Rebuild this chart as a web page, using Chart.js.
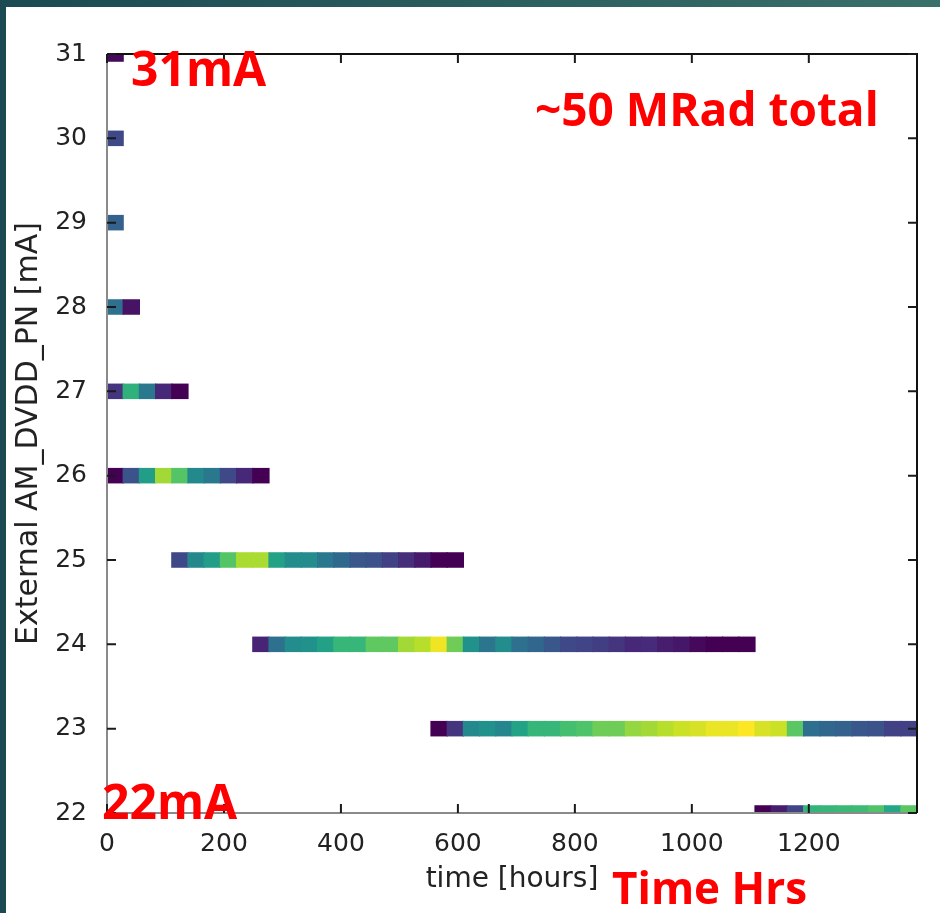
<!DOCTYPE html>
<html>
<head>
<meta charset="utf-8">
<title>AM_DVDD_PN vs time</title>
<script src="https://cdn.jsdelivr.net/npm/chart.js@4.4.1/dist/chart.umd.min.js"></script>
<style>
  html, body { margin: 0; padding: 0; background: #fff; }
  .page { position: relative; width: 940px; height: 913px; overflow: hidden; background: #fff; }
  canvas { position: absolute; left: 0; top: 0; }
  .strip-left { position: absolute; left: 0; top: 0; width: 6px; height: 913px; background: #1b4a52; }
  .strip-top { position: absolute; left: 0; top: 0; width: 940px; height: 7px; background: linear-gradient(to right, #1b4a52, #3a706a); }
  .note { position: absolute; color: #ff0000; font-family: "Open Sans", sans-serif; font-weight: bold; font-size: 48px; line-height: 48px; white-space: nowrap; }
</style>
</head>
<body>
<div class="page">
  <canvas id="myChart" width="940" height="913"></canvas>
  <div class="strip-left"></div>
  <div class="strip-top"></div>
  <div class="note" style="left:131px; top:44px;">31mA</div>
  <div class="note" style="left:535px; top:85px; font-size:46px; line-height:46px;">~50 MRad total</div>
  <div class="note" style="left:102px; top:777px;">22mA</div>
  <div class="note" style="left:612px; top:865px; font-size:44px; line-height:44px;">Time Hrs</div>
</div>
<script>
// rows of the 2d histogram (current in mA), top to bottom
const currents = [31, 30, 29, 28, 27, 26, 25, 24, 23, 22];
// index of the first filled time bin in each row
const firstBin = [0, 0, 0, 0, 0, 0, 4, 9, 20, 40];

// counts per time bin
const counts31 = [2];
const counts30 = [22];
const counts29 = [31];
const counts28 = [37, 5];
const counts27 = [15, 64, 40, 11, 0];
const counts26 = [0, 25, 55, 86, 73, 47, 40, 22, 11, 0];
const counts25 = [22, 47, 55, 73, 87, 87, 57, 48, 48, 40, 34, 27, 25, 19, 13, 7, 0, 0];
const counts24 = [10, 37, 48, 50, 57, 66, 66, 75, 75, 86, 89, 98, 78, 50, 39, 48, 37, 33, 27, 22, 20, 18, 15, 11, 12, 8, 6, 2, 0, 0, 0];
const counts23 = [0, 15, 47, 50, 46, 58, 66, 66, 70, 72, 78, 78, 84, 86, 89, 92, 94, 97, 97, 100, 94, 92, 74, 36, 33, 31, 27, 25, 19, 19];
const counts22 = [0, 8, 20, 65, 66, 67, 68, 72, 60, 74];
const rowCounts = [counts31, counts30, counts29, counts28, counts27, counts26, counts25, counts24, counts23, counts22];

const binHours = 27.7;
const timeMax = 1385;
const timeTicks = [0, 200, 400, 600, 800, 1000, 1200];
const currentTicks = [22, 23, 24, 25, 26, 27, 28, 29, 30, 31];

// viridis stops
const viridis = ['#440154', '#482475', '#414487', '#355f8d', '#2a788e', '#21918c', '#22a884', '#44bf70', '#7ad151', '#bddf26', '#fde725'];

function hexRgb(h) {
  return [parseInt(h.slice(1, 3), 16), parseInt(h.slice(3, 5), 16), parseInt(h.slice(5, 7), 16)];
}

function viridisColor(v) {
  v = Math.max(0, Math.min(1, v));
  const p = v * (viridis.length - 1);
  const i = Math.min(Math.floor(p), viridis.length - 2);
  const f = p - i;
  const a = hexRgb(viridis[i]), b = hexRgb(viridis[i + 1]);
  const c = a.map((x, k) => Math.round(x + (b[k] - x) * f));
  return 'rgb(' + c.join(',') + ')';
}

const allCounts = rowCounts.flat();
const cMin = Math.min(...allCounts);
const cMax = Math.max(...allCounts);

const cells = [];
const cellColors = [];
currents.forEach((mA, i) => {
  rowCounts[i].forEach((c, j) => {
    const bin = firstBin[i] + j;
    cells.push({ y: mA, x: [bin * binHours, Math.min((bin + 1) * binHours, timeMax)] });
    cellColors.push(viridisColor((c - cMin) / (cMax - cMin)));
  });
});

// matplotlib style frame with inward ticks on all four sides
const frameTicks = {
  id: 'frameTicks',
  afterDatasetsDraw(chart) {
    const { ctx, chartArea: a, scales: { x, y } } = chart;
    const len = 9;
    ctx.save();
    ctx.lineWidth = 2;
    ctx.strokeStyle = '#8a8a8a';
    ctx.beginPath();
    ctx.moveTo(a.left, a.top);
    ctx.lineTo(a.left, a.bottom);
    ctx.lineTo(a.right, a.bottom);
    ctx.stroke();
    ctx.strokeStyle = '#111';
    ctx.beginPath();
    ctx.moveTo(a.left, a.top);
    ctx.lineTo(a.right, a.top);
    ctx.lineTo(a.right, a.bottom);
    ctx.stroke();

    ctx.strokeStyle = '#1a1a1a';
    ctx.beginPath();
    x.ticks.forEach(t => {
      const px = x.getPixelForValue(t.value);
      ctx.moveTo(px, a.bottom);
      ctx.lineTo(px, a.bottom - len);
      ctx.moveTo(px, a.top);
      ctx.lineTo(px, a.top + len);
    });
    y.ticks.forEach(t => {
      const py = y.getPixelForValue(t.value);
      ctx.moveTo(a.left, py);
      ctx.lineTo(a.left + len, py);
      ctx.moveTo(a.right, py);
      ctx.lineTo(a.right - len, py);
    });
    ctx.stroke();
    ctx.restore();
  }
};

const tickFont = { family: "'DejaVu Sans', sans-serif", size: 25 };

const ctx = document.getElementById('myChart');

new Chart(ctx, {
  type: 'bar',
  data: {
    datasets: [{
      data: cells,
      backgroundColor: cellColors,
      borderWidth: 0,
      inflateAmount: 0.6,
      categoryPercentage: 1,
      barPercentage: 0.17
    }]
  },
  options: {
    indexAxis: 'y',
    responsive: false,
    animation: false,
    events: [],
    layout: { padding: { left: 0, top: 54, right: 23, bottom: 0 } },
    plugins: {
      legend: { display: false },
      tooltip: { enabled: false }
    },
    scales: {
      x: {
        type: 'linear',
        position: 'bottom',
        min: 0,
        max: timeMax,
        afterBuildTicks: s => { s.ticks = timeTicks.map(v => ({ value: v })); },
        afterFit: s => { s.height = 100; },
        grid: { display: false },
        border: { display: false },
        ticks: { padding: 8, color: '#222', font: tickFont, callback: v => String(v) },
        title: {
          display: true,
          text: 'time [hours]',
          color: '#222',
          font: { family: "'DejaVu Sans', sans-serif", size: 28 },
          padding: { top: 0, bottom: 16 }
        }
      },
      y: {
        type: 'linear',
        position: 'left',
        min: 22,
        max: 31,
        offset: false,
        afterBuildTicks: s => { s.ticks = currentTicks.map(v => ({ value: v })); },
        afterFit: s => { s.width = 107; },
        grid: { display: false, offset: false },
        border: { display: false },
        ticks: { padding: 12, color: '#222', font: tickFont, callback: v => String(v) },
        title: {
          display: true,
          text: 'External AM_DVDD_PN [mA]',
          color: '#222',
          font: { family: "'DejaVu Sans', sans-serif", size: 30 },
          padding: { top: 11, bottom: 0 }
        }
      }
    }
  },
  plugins: [frameTicks]
});
</script>
</body>
</html>
